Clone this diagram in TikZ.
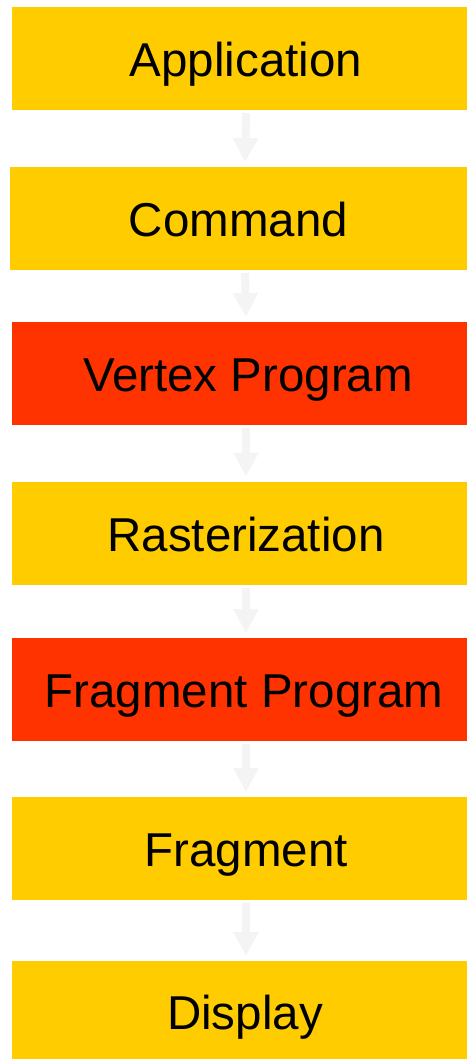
\documentclass[tikz,border=0pt]{standalone}
\usepackage{fontspec}
\setmainfont{Liberation Sans}
\usetikzlibrary{arrows.meta}
\definecolor{boxyellow}{HTML}{FFCC00}
\definecolor{boxred}{HTML}{FF3300}
\definecolor{arrowgray}{HTML}{F4F4F4}
\begin{document}
\begin{tikzpicture}[x=1pt,y=-1pt,
  stagebox/.style={rectangle, draw=none, minimum width=455pt, minimum height=103pt, inner sep=0pt, outer sep=0pt},
  stagetext/.style={font=\fontsize{47.5}{55}\selectfont, text=black, inner sep=0pt, text height=35pt, text depth=10pt, yshift=-5.5pt},
  flow/.style={draw=arrowgray, line width=8pt, -{Triangle[width=24pt,length=24pt]}}
]
\useasboundingbox (0,0) rectangle (467,1059);
\begin{scope}
\clip (0,0) rectangle (467,1059);
\node[stagebox, fill=boxyellow, label={[stagetext, xshift=6.5pt]center:Application}] (app) at (239.5,58.5) {};
\node[stagebox, fill=boxyellow, minimum width=457pt, label={[stagetext, xshift=0pt]center:Command}] (cmd) at (238.5,218.5) {};
\node[stagebox, fill=boxred, label={[stagetext, xshift=8.5pt]center:Vertex Program}] (vtx) at (239.5,373.5) {};
\node[stagebox, fill=boxyellow, label={[stagetext, xshift=6.5pt]center:Rasterization}] (ras) at (239.5,533) {};
\node[stagebox, fill=boxred, label={[stagetext, xshift=4.5pt]center:Fragment Program}] (fpr) at (239.5,689.5) {};
\node[stagebox, fill=boxyellow, label={[stagetext, xshift=6.5pt]center:Fragment}] (frg) at (239.5,848.5) {};
\node[stagebox, fill=boxyellow, label={[stagetext, xshift=5.5pt, yshift=1.5pt]center:Display}] (dsp) at (239.5,1012.5) {};
\end{scope}
\draw[flow] ([xshift=6.5pt,yshift=-3pt]app.south) -- ([xshift=6.5pt,yshift=5pt]cmd.north);
\draw[flow] ([xshift=6.5pt,yshift=-3pt]cmd.south) -- ([xshift=6.5pt,yshift=5pt]vtx.north);
\draw[flow] ([xshift=6.5pt,yshift=-3pt]vtx.south) -- ([xshift=6.5pt,yshift=5pt]ras.north);
\draw[flow] ([xshift=6.5pt,yshift=-3pt]ras.south) -- ([xshift=6.5pt,yshift=5pt]fpr.north);
\draw[flow] ([xshift=6.5pt,yshift=-3pt]fpr.south) -- ([xshift=6.5pt,yshift=5pt]frg.north);
\draw[flow] ([xshift=6.5pt,yshift=-3pt]frg.south) -- ([xshift=6.5pt,yshift=5pt]dsp.north);
\end{tikzpicture}
\end{document}
